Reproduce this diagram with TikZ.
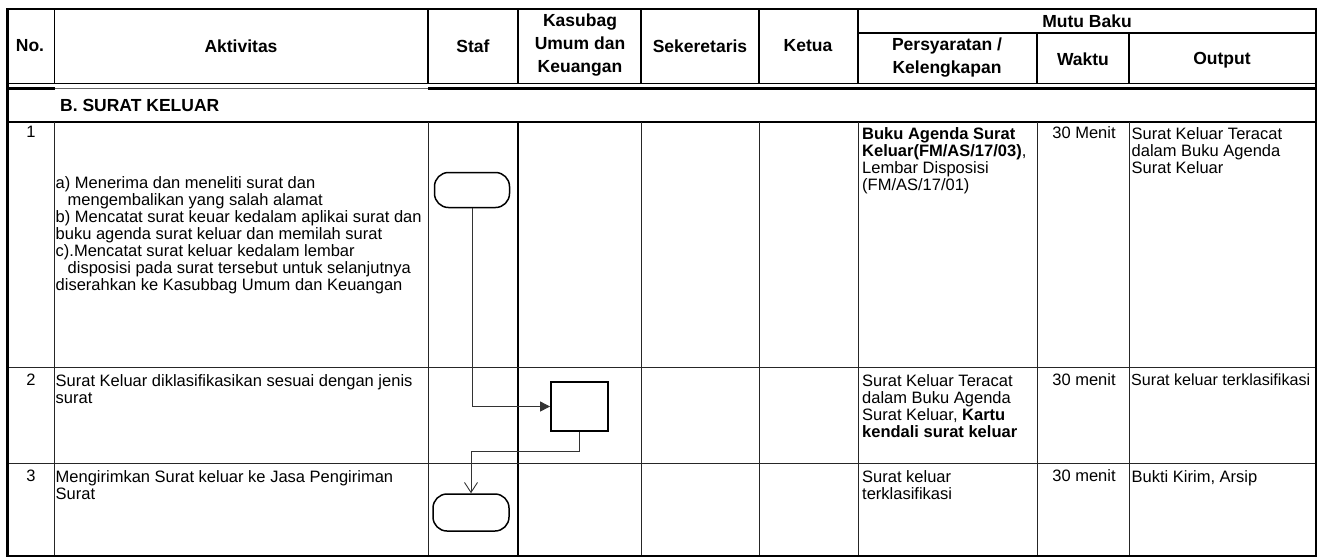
\documentclass[tikz,border=0pt]{standalone}
\usepackage{fontspec}
\setmainfont{Liberation Sans}
\usetikzlibrary{arrows.meta}
\begin{document}
\begin{tikzpicture}[x=1pt,y=-1pt,
  body/.style={font=\fontsize{16.5}{17}\selectfont, inner sep=0pt, align=left, anchor=north west},
  hdr/.style={font=\bfseries\fontsize{17.5}{23}\selectfont, inner sep=0pt, align=center},
  num/.style={font=\fontsize{16.5}{17}\selectfont, inner sep=0pt},
  term/.style={draw, line width=1.5pt, rounded corners=14pt, minimum width=75pt, minimum height=35pt, inner sep=0pt},
  proc/.style={draw, line width=1.8pt, minimum width=57pt, minimum height=49pt, inner sep=0pt},
  conn/.style={line width=0.9pt, draw=black!80},
  grid/.style={line width=1pt, draw=black!85},
  hgrid/.style={line width=1.3pt},
  thick rule/.style={line width=2.4pt}
]
\useasboundingbox (0,0) rectangle (1320,558);
% ---- grid ----
% header verticals
\foreach \x in {54.5,428,518,641,759,858} \draw[hgrid] (\x,9) -- (\x,83);
\foreach \x in {1037,1129} \draw[hgrid] (\x,33) -- (\x,83);
\draw[hgrid] (858,33) -- (1316,33);
\draw[line width=1pt] (7.5,83) -- (1316,83);
\draw[line width=2.2pt] (7.5,88.5) -- (54.5,88.5);
\draw[line width=2.2pt] (428,88.5) -- (1316,88.5);
\draw[line width=0.8pt, draw=black!60] (54.5,88) -- (428,88);
\draw[thick rule] (7.5,122) -- (1316,122);
% body verticals
\foreach \x in {54.5,428,641,759,858,1037,1129} \draw[grid] (\x,122) -- (\x,556);
\draw[line width=1.4pt] (518,122) -- (518,556);
\draw[grid] (7.5,367) -- (1316,367);
\draw[grid] (7.5,463) -- (1316,463);
% outer border
\draw[line width=2.6pt] (7.5,9) rectangle (1316,556);
% ---- header text ----
\node[hdr] (hno) at (30,46) {No.};
\node[hdr] (hakt) at (241,46) {Aktivitas};
\node[hdr] (hstaf) at (473,46) {Staf};
\node[hdr] (hkas) at (580,45) {Kasubag\\Umum dan\\Keuangan};
\node[hdr] (hsek) at (700,46) {Sekeretaris};
\node[hdr] (hket) at (808,46) {Ketua};
\node[hdr] (hmutu) at (1087,21) {Mutu Baku};
\node[hdr] (hpers) at (947,58) {Persyaratan /\\Kelengkapan};
\node[hdr] (hwak) at (1083,59) {Waktu};
\node[hdr] (hout) at (1222,60) {Output};
\node[hdr, anchor=west] (sect) at (60,105) {B. SURAT KELUAR};
% ---- row numbers ----
\node[num] (n1) at (31,132) {1};
\node[num] (n2) at (31,380) {2};
\node[num] (n3) at (31,476) {3};
% ---- activity texts ----
\node[body] (a1) at (55.5,176) {a) Menerima dan meneliti surat dan\\
\hspace*{12pt}mengembalikan yang salah alamat\\
b) Mencatat surat keuar kedalam aplikai surat dan\\
buku agenda surat keluar dan memilah surat\\
c).Mencatat surat keluar kedalam lembar\\
\hspace*{12pt}disposisi pada surat tersebut untuk selanjutnya\\
diserahkan ke Kasubbag Umum dan Keuangan};
\node[body] (a2) at (55.5,374) {Surat Keluar diklasifikasikan sesuai dengan jenis\\surat};
\node[body] (a3) at (55.5,470) {Mengirimkan Surat keluar ke Jasa Pengiriman\\Surat};
% ---- requirement / time / output ----
\node[body] (p1) at (862,127) {\textbf{Buku Agenda Surat}\\\textbf{Keluar(FM/AS/17/03)}, \\Lembar Disposisi\\(FM/AS/17/01)};
\node[num] (w1) at (1084,133) {30 Menit};
\node[body] (o1) at (1131.5,127) {Surat Keluar Teracat\\dalam Buku Agenda\\Surat Keluar};
\node[body] (p2) at (862,374) {Surat Keluar Teracat\\dalam Buku Agenda\\Surat Keluar, \textbf{Kartu}\\\textbf{kendali surat keluar}};
\node[num] (w2) at (1084,380) {30 menit};
\node[body, font=\fontsize{16.1}{17}\selectfont] (o2) at (1131,374) {Surat keluar terklasifikasi};
\node[body] (p3) at (862,470) {Surat keluar\\terklasifikasi};
\node[num] (w3) at (1084,476) {30 menit};
\node[body] (o3) at (1131.5,470) {Bukti Kirim, Arsip};
% ---- flowchart ----
\node[term] (t1) at (472,190) {};
\node[proc] (pr) at (579.5,406.5) {};
\node[term, minimum height=37pt, minimum width=76pt] (t2) at (471,512.5) {};
\draw[conn, -{Triangle[length=10pt,width=10pt]}] (t1.south) |- (pr.west);
\draw[conn, -{Straight Barb[length=10pt,width=13pt]}] (pr.south) -- ++(0,20) -| (t2.north);
\end{tikzpicture}
\end{document}
